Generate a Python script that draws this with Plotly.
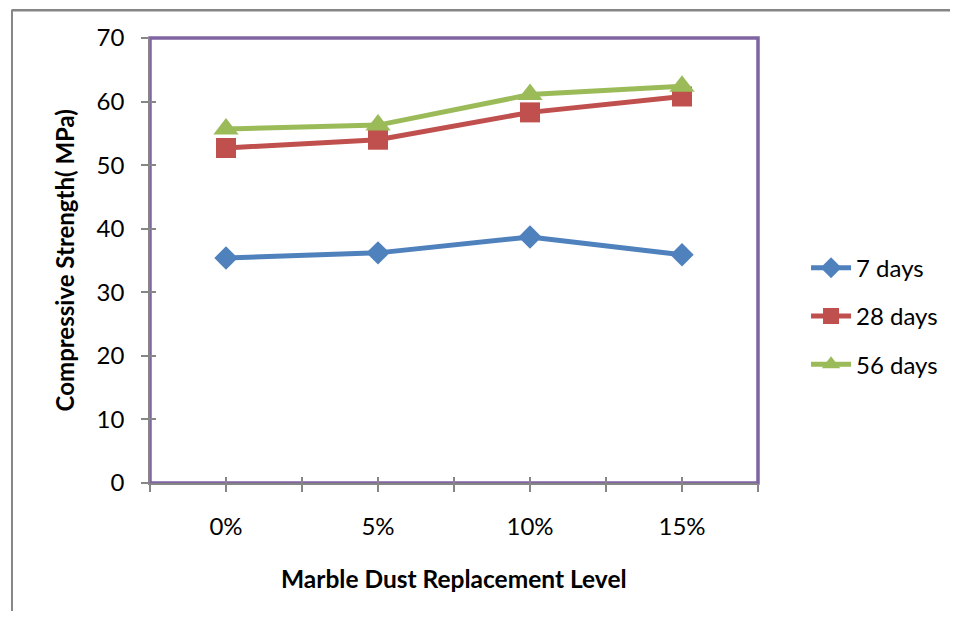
import plotly.graph_objects as go

categories = ["0%", "5%", "10%", "15%"]
days7 = [35.4, 36.2, 38.7, 35.9]
days28 = [52.7, 54.0, 58.3, 60.8]
days56 = [55.7, 56.3, 61.1, 62.4]
y_ticks = [0, 10, 20, 30, 40, 50, 60, 70]

FONT = "Lato"
FS = 24
xpos = list(range(len(categories)))

fig = go.Figure()
series = [
    ("7 days", days7, "#4F81BD", "diamond", 18),
    ("28 days", days28, "#C0504D", "square", 20),
    ("56 days", days56, "#9BBB59", "triangle-up", 22),
]
for name, vals, col, sym, sz in series:
    fig.add_trace(go.Scatter(
        x=xpos, y=vals, name=name, mode="lines+markers", legendgroup=name,
        line=dict(color=col, width=5),
        marker=dict(symbol=sym, size=sz, color=col),
        cliponaxis=False,
    ))

# dummy trace for inside-tick overlay axes
fig.add_trace(go.Scatter(x=[0], y=[0], xaxis="x2", yaxis="y2", mode="markers",
                         marker=dict(opacity=0), showlegend=False, hoverinfo="skip"))

half_ticks = [i * 0.5 - 0.5 for i in range(2 * len(categories) + 1)]
half_text = [categories[int(v)] if float(v).is_integer() and 0 <= v < len(categories) else "" for v in half_ticks]

fig.update_layout(
    width=950, height=603,
    margin=dict(l=142, r=200, t=30, b=128),
    paper_bgcolor="white", plot_bgcolor="white",
    font=dict(family=FONT, size=FS, color="black"),
    showlegend=True,
    legend=dict(x=1.079, y=0.375, xanchor="left", yanchor="middle",
                font=dict(family=FONT, size=FS, color="black"),
                tracegroupgap=14, itemwidth=40),
    xaxis=dict(range=[-0.5, len(categories) - 0.5], tickmode="array",
               tickvals=half_ticks, ticktext=half_text,
               ticks="outside", ticklen=7, tickwidth=1.5, tickcolor="#868686",
               showline=True, linecolor="#868686", linewidth=1.5,
               showgrid=False, zeroline=False, fixedrange=True,
               tickfont=dict(size=FS), ticklabelstandoff=14),
    yaxis=dict(range=[0, 70], tickmode="array", tickvals=y_ticks,
               ticks="outside", ticklen=7, tickwidth=1.5, tickcolor="#868686",
               showline=True, linecolor="#868686", linewidth=1.5,
               showgrid=False, zeroline=False, fixedrange=True,
               tickfont=dict(size=FS), ticklabelstandoff=12),
    xaxis2=dict(range=[-0.5, len(categories) - 0.5], overlaying="x", anchor="y",
                tickmode="array", tickvals=half_ticks, ticks="inside", ticklen=6,
                tickwidth=1.5, tickcolor="#868686", showticklabels=False,
                showgrid=False, zeroline=False, showline=False),
    yaxis2=dict(range=[0, 70], overlaying="y", anchor="x", tickmode="array",
                tickvals=y_ticks, ticks="inside", ticklen=6, tickwidth=1.5,
                tickcolor="#868686", showticklabels=False, showgrid=False,
                zeroline=False, showline=False),
    shapes=[
        dict(type="rect", xref="paper", yref="paper", x0=0, x1=1, y0=0, y1=1,
             line=dict(color="#8064A2", width=3.5), layer="below"),
        dict(type="line", xref="paper", yref="paper", x0=-0.227, x1=1.6, y0=1.0625, y1=1.0625,
             line=dict(color="#868686", width=2.5), layer="above"),
        dict(type="line", xref="paper", yref="paper", x0=-0.227, x1=-0.227, y0=-0.6, y1=1.064,
             line=dict(color="#868686", width=2), layer="above"),
    ],
    annotations=[
        dict(text="<b>Compressive Strength( MPa)</b>", xref="paper", yref="paper",
             x=-0.14, y=0.5, textangle=-90, showarrow=False,
             font=dict(family=FONT, size=FS, color="black"), xanchor="center", yanchor="middle"),
        dict(text="<b>Marble Dust Replacement Level</b>", xref="paper", yref="paper",
             x=0.5, y=-0.2135, showarrow=False,
             font=dict(family=FONT, size=24.5, color="black"), xanchor="center", yanchor="middle"),
    ],
)

fig.write_html("out.html")
